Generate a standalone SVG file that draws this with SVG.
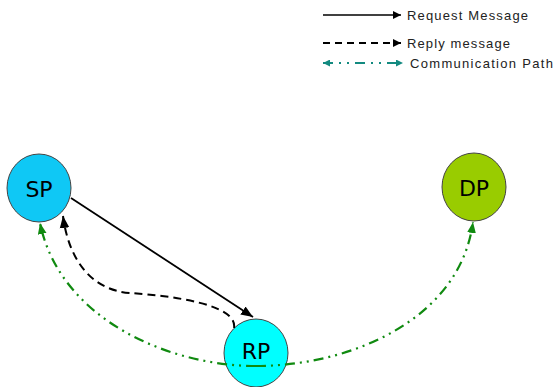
<svg xmlns="http://www.w3.org/2000/svg" width="553" height="387" viewBox="0 0 553 387">
  <style>
    .node { stroke: #444; stroke-width: 1; }
    .label { font-family: "DejaVu Sans", "Liberation Sans", sans-serif; font-size: 22px; fill: #000; text-anchor: middle; }
    .legend { font-family: "Liberation Sans", Arial, sans-serif; font-size: 13px; fill: #222; }
    .req { fill: none; stroke: #000; stroke-width: 1.8; }
    .rep { fill: none; stroke: #000; stroke-width: 2; stroke-dasharray: 8 5; }
    .path { fill: none; stroke: #108a10; stroke-width: 2.2; stroke-dasharray: 10 5 2 5 2 5; }
    .lg-path { fill: none; stroke: #138a80; stroke-width: 2; stroke-dasharray: 10 6 2 6 2 6; }
  </style>
  <defs>
    <marker id="ah-black" viewBox="0 0 10 10" refX="10" refY="5" markerWidth="8" markerHeight="8" markerUnits="userSpaceOnUse" orient="auto">
      <path d="M0,0 L10,5 L0,10 Z" fill="#000"/>
    </marker>
    <marker id="ah-big" viewBox="0 0 10 10" refX="10" refY="5" markerWidth="12" markerHeight="12" markerUnits="userSpaceOnUse" orient="auto">
      <path d="M0,1 L10,5 L0,9 Z" fill="#000"/>
    </marker>
    <marker id="ah-green" viewBox="0 0 10 10" refX="10" refY="5" markerWidth="11" markerHeight="11" markerUnits="userSpaceOnUse" orient="auto">
      <path d="M0,1 L10,5 L0,9 Z" fill="#108a10"/>
    </marker>
    <marker id="ah-teal" viewBox="0 0 10 10" refX="10" refY="5" markerWidth="7" markerHeight="7" markerUnits="userSpaceOnUse" orient="auto">
      <path d="M0,0 L10,5 L0,10 Z" fill="#138a80"/>
    </marker>
    <marker id="ah-teal-start" viewBox="0 0 10 10" refX="0" refY="5" markerWidth="7" markerHeight="7" markerUnits="userSpaceOnUse" orient="auto">
      <path d="M10,0 L0,5 L10,10 Z" fill="#138a80"/>
    </marker>
  </defs>

  <!-- legend -->
  <g id="legend">
    <line x1="323" y1="15" x2="401" y2="15" stroke="#000" stroke-width="1.4" marker-end="url(#ah-black)"/>
    <text class="legend" x="407" y="20" textLength="121">Request Message</text>
    <line x1="323" y1="43" x2="401" y2="43" stroke="#000" stroke-width="2" stroke-dasharray="7 5" marker-end="url(#ah-black)"/>
    <text class="legend" x="407" y="48" textLength="103">Reply message</text>
    <line x1="323" y1="63" x2="403" y2="63" class="lg-path" marker-start="url(#ah-teal-start)" marker-end="url(#ah-teal)"/>
    <text class="legend" x="410" y="68" textLength="143">Communication Path</text>
  </g>

  <!-- nodes -->
  <g id="SP">
    <ellipse class="node" cx="39" cy="188" rx="32" ry="34" fill="#0fc8f5"/>
    <text class="label" x="39" y="197">SP</text>
  </g>
  <g id="DP">
    <ellipse class="node" cx="474" cy="187" rx="32" ry="34" fill="#99cc00"/>
    <text class="label" x="474" y="196">DP</text>
  </g>
  <g id="RP">
    <ellipse class="node" cx="256" cy="353" rx="32" ry="34" fill="#00ffff"/>
    <text class="label" x="256" y="359">RP</text>
  </g>

  <!-- connectors -->
  <g id="connectors">
    <path class="req" d="M71,198 L253,317" marker-end="url(#ah-big)"/>
    <path class="rep" d="M234,328 C238,305 175,296 130,293 C88,290 68,255 63,216" marker-end="url(#ah-big)"/>
    <path class="path" d="M256,366 C170,366 60,320 40,223" marker-end="url(#ah-green)"/>
    <path class="path" d="M256,366 C350,366 460,320 473,222" marker-end="url(#ah-green)"/>
  </g>
</svg>
